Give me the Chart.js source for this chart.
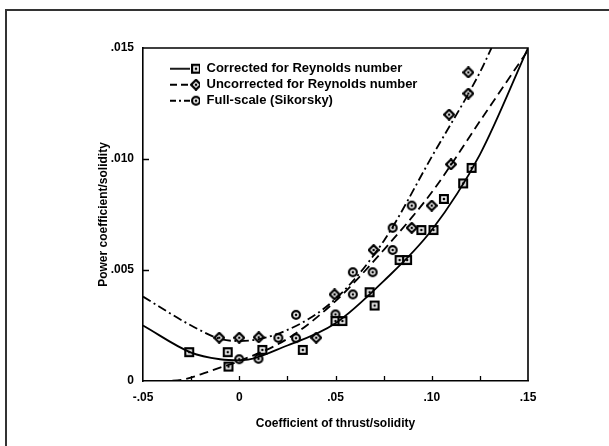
<!DOCTYPE html>
<html>
<head>
<meta charset="utf-8">
<script src="https://cdn.jsdelivr.net/npm/chart.js@4.4.1/dist/chart.umd.min.js"></script>
<style>
  html, body { margin: 0; padding: 0; background: #fff; }
  #wrap { position: relative; width: 609px; height: 446px; overflow: hidden; }
  #frame { position: absolute; left: 5px; top: 9px; width: 620px; height: 460px;
           border-left: 2px solid #333; border-top: 2px solid #333; }
  #c { position: absolute; left: 0; top: 0; }
</style>
</head>
<body>
<div id="wrap">
  <div id="frame"></div>
  <canvas id="c" width="609" height="446"></canvas>
</div>
<script>
// ---------------- data ----------------
const corrX = [-0.026, -0.006, -0.0056, 0.012, 0.033, 0.050, 0.0536, 0.0677, 0.0703, 0.0833, 0.0872, 0.0946, 0.1009, 0.1063, 0.1163, 0.1207];
const corrY = [0.0013, 0.0013, 0.00065, 0.0014, 0.0014, 0.0027, 0.0027, 0.0040, 0.0034, 0.00545, 0.00545, 0.0068, 0.0068, 0.0082, 0.0089, 0.0096];

const uncX = [-0.0104, 0.0, 0.0101, 0.040, 0.0495, 0.0698, 0.0896, 0.100, 0.110, 0.109, 0.119, 0.119];
const uncY = [0.00195, 0.00195, 0.00197, 0.00195, 0.0039, 0.0059, 0.0069, 0.0079, 0.00976, 0.0120, 0.01295, 0.0139];

const fullX = [0.0, 0.010, 0.0203, 0.0295, 0.0295, 0.050, 0.059, 0.059, 0.0693, 0.0797, 0.0797, 0.0896];
const fullY = [0.00098, 0.0010, 0.00194, 0.00298, 0.00193, 0.0030, 0.0039, 0.0049, 0.0049, 0.0059, 0.0069, 0.0079];

// fitted curves as drawn
const solidX = [-0.05, -0.025, -0.01, 0.0, 0.025, 0.05, 0.075, 0.10, 0.125, 0.15];
const solidY = [0.0025, 0.00128, 0.00098, 0.00093, 0.0016, 0.0026, 0.0045, 0.0068, 0.0102, 0.015];

const dashX = [-0.042, -0.03, -0.02, -0.01, 0.0, 0.025, 0.05, 0.075, 0.10, 0.125, 0.15];
const dashY = [0.0, 0.00005, 0.0003, 0.0006, 0.0009, 0.0019, 0.0036, 0.0059, 0.0085, 0.0117, 0.0149];

const ddX = [-0.05, -0.025, -0.01, 0.0, 0.025, 0.05, 0.075, 0.10, 0.125, 0.131];
const ddY = [0.0038, 0.0025, 0.0019, 0.0018, 0.0023, 0.0037, 0.0063, 0.0101, 0.0139, 0.015];

const seriesNames = ['Corrected for Reynolds number', 'Uncorrected for Reynolds number', 'Full-scale (Sikorsky)'];

const xTickValues = [-0.05, 0, 0.05, 0.10, 0.15];
const xTickLabels = ['-.05', '0', '.05', '.10', '.15'];
const yTickValues = [0, 0.005, 0.010, 0.015];
const yTickLabels = ['0', '.005', '.010', '.015'];

const xTitle = 'Coefficient of thrust/solidity';
const yTitle = 'Power coefficient/solidity';

// ---------------- styling helpers ----------------
const INK = '#000';
const FONT = "'Liberation Sans', Arial, Helvetica, sans-serif";

function makeMarker(kind) {
  const c = document.createElement('canvas');
  c.width = 12; c.height = 12;
  const g = c.getContext('2d');
  g.translate(6, 6);
  g.lineWidth = 2.2;
  g.strokeStyle = INK;
  g.fillStyle = '#fff';
  g.beginPath();
  if (kind === 'square') {
    g.rect(-3.9, -3.9, 7.8, 7.8);
  } else if (kind === 'diamond') {
    g.moveTo(0, -4.9); g.lineTo(4.9, 0); g.lineTo(0, 4.9); g.lineTo(-4.9, 0); g.closePath();
  } else {
    g.arc(0, 0, 3.9, 0, Math.PI * 2);
  }
  g.fill(); g.stroke();
  g.fillStyle = INK;
  g.fillRect(-1.2, -1.2, 2.4, 2.4);
  return c;
}
const mkSquare = makeMarker('square');
const mkDiamond = makeMarker('diamond');
const mkCircle = makeMarker('circle');

function makeLegendIcon(dash, mk) {
  const c = document.createElement('canvas');
  c.width = 54; c.height = 12;
  const g = c.getContext('2d');
  g.strokeStyle = INK;
  g.lineWidth = 1.8;
  g.setLineDash(dash);
  g.beginPath(); g.moveTo(24, 6); g.lineTo(44, 6); g.stroke();
  g.setLineDash([]);
  g.drawImage(mk, 50 - 6, 0);
  return c;
}

const DASH = [9, 5];
const DASHDOT = [9, 3.5, 2, 3.5];

const legendIcons = [
  makeLegendIcon([], mkSquare),
  makeLegendIcon([7, 4], mkDiamond),
  makeLegendIcon([6, 3, 2, 3], mkCircle)
];

function pts(xs, ys) { return xs.map((x, i) => ({ x: x, y: ys[i] })); }
function lookup(values, labels, v) {
  for (let i = 0; i < values.length; i++) {
    if (Math.abs(values[i] - v) < 1e-7) return labels[i];
  }
  return '';
}

// box + inward ticks
const framePlugin = {
  id: 'framePlugin',
  afterDatasetsDraw(chart) {
    const { ctx, chartArea: a, scales } = chart;
    ctx.save();
    ctx.strokeStyle = INK;
    ctx.lineWidth = 1.6;
    ctx.beginPath();
    ctx.moveTo(a.left, a.top); ctx.lineTo(a.right, a.top); ctx.lineTo(a.right, a.bottom);
    ctx.stroke();
    ctx.lineWidth = 1.3;
    ctx.beginPath();
    scales.x.ticks.forEach(t => {
      if (t.value <= scales.x.min + 1e-9 || t.value >= scales.x.max - 1e-9) return;
      const px = Math.round(scales.x.getPixelForValue(t.value)) + 0.5;
      ctx.moveTo(px, a.bottom); ctx.lineTo(px, a.bottom - 5);
    });
    scales.y.ticks.forEach(t => {
      if (t.value <= scales.y.min + 1e-12 || t.value >= scales.y.max - 1e-12) return;
      const py = Math.round(scales.y.getPixelForValue(t.value)) + 0.5;
      ctx.moveTo(a.left, py); ctx.lineTo(a.left + 6, py);
    });
    ctx.stroke();
    ctx.restore();
  }
};

Chart.defaults.font.family = FONT;
Chart.defaults.font.weight = 'bold';
Chart.defaults.color = INK;

const lineCommon = { showLine: true, pointRadius: 0, borderColor: INK, borderWidth: 1.8,
                     cubicInterpolationMode: 'monotone', fill: false };
const markCommon = { showLine: false, pointRadius: 5, pointHoverRadius: 5 };

new Chart(document.getElementById('c'), {
  type: 'scatter',
  data: {
    datasets: [
      Object.assign({ label: seriesNames[0] + ' fit', data: pts(solidX, solidY), borderDash: [] }, lineCommon),
      Object.assign({ label: seriesNames[1] + ' fit', data: pts(dashX, dashY), borderDash: DASH }, lineCommon),
      Object.assign({ label: seriesNames[2] + ' fit', data: pts(ddX, ddY), borderDash: DASHDOT }, lineCommon),
      Object.assign({ label: seriesNames[0], data: pts(corrX, corrY), pointStyle: mkSquare }, markCommon),
      Object.assign({ label: seriesNames[1], data: pts(uncX, uncY), pointStyle: mkDiamond }, markCommon),
      Object.assign({ label: seriesNames[2], data: pts(fullX, fullY), pointStyle: mkCircle }, markCommon)
    ]
  },
  options: {
    responsive: false,
    animation: false,
    devicePixelRatio: 1,
    layout: { padding: { left: 92, top: 48, right: 81, bottom: 10 } },
    plugins: {
      tooltip: { enabled: false },
      legend: {
        position: 'chartArea',
        align: 'start',
        title: { display: true, text: ' ', font: { size: 1 }, padding: { top: 58, bottom: 0 } },
        labels: {
          usePointStyle: true,
          pointStyleWidth: 54,
          padding: 3,
          color: INK,
          font: { family: FONT, size: 13, weight: 'bold' },
          generateLabels: () => seriesNames.map((n, i) => ({
            text: n, pointStyle: legendIcons[i], datasetIndex: i + 3,
            fillStyle: '#fff', strokeStyle: INK, lineWidth: 0, hidden: false, fontColor: INK
          }))
        }
      }
    },
    scales: {
      x: {
        type: 'linear', min: -0.05, max: 0.15,
        border: { display: true, color: INK, width: 1.6 },
        grid: { display: false, drawTicks: false },
        ticks: {
          stepSize: 0.025, padding: 9, autoSkip: false, maxRotation: 0, color: INK,
          font: { family: FONT, size: 12, weight: 'bold' },
          callback: (v) => lookup(xTickValues, xTickLabels, v)
        },
        title: { display: true, text: xTitle, color: INK, padding: { top: 0, bottom: 5 },
                 font: { family: FONT, size: 12, weight: 'bold' } },
        afterFit(s) { s.height = 55; }
      },
      y: {
        type: 'linear', min: 0, max: 0.015,
        border: { display: true, color: INK, width: 1.6 },
        grid: { display: false, drawTicks: false },
        ticks: {
          stepSize: 0.005, padding: 9, color: INK,
          font: { family: FONT, size: 12, weight: 'bold' },
          callback: (v) => lookup(yTickValues, yTickLabels, v)
        },
        title: { display: true, text: yTitle, color: INK, padding: { top: 4, bottom: 0 },
                 font: { family: FONT, size: 12, weight: 'bold' } },
        afterFit(s) { s.width = 51; }
      }
    }
  },
  plugins: [framePlugin]
});
</script>
</body>
</html>
